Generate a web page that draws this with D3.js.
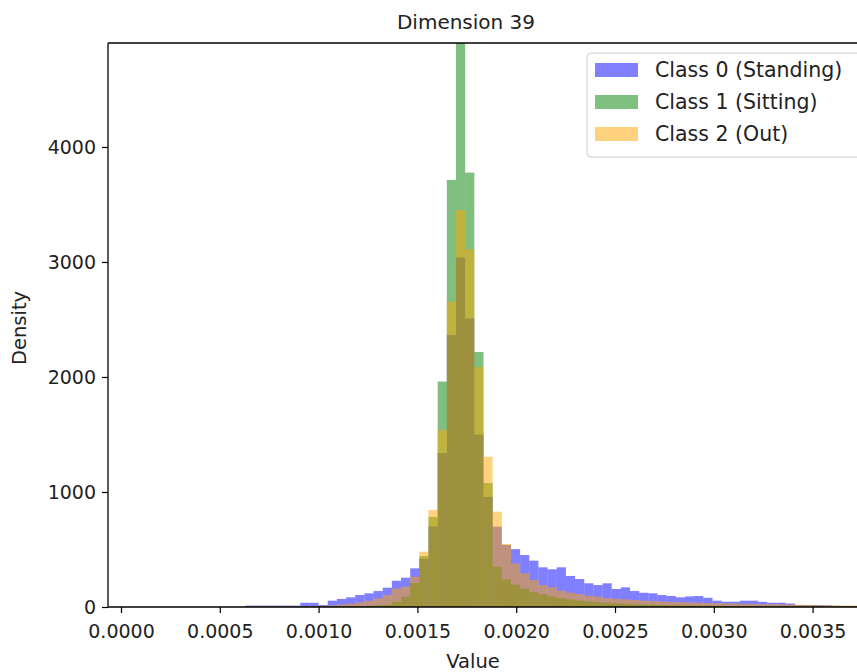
<!DOCTYPE html>
<html>
<head>
<meta charset="utf-8">
<script src="https://cdn.jsdelivr.net/npm/d3@7"></script>
<style>
  body { margin: 0; background: #fff; }
  svg { display: block; font-family: "DejaVu Sans", sans-serif; }
</style>
</head>
<body>
<script>
// histogram bins: first bin left edge and bin width (data units)
var binWidth = 0.00004636;
var firstEdge = 0.0016953 - 23 * binWidth;

var classNames = ["Class 0 (Standing)", "Class 1 (Sitting)", "Class 2 (Out)"];

// densities per bin
var standing = [12, 12, 12, 12, 12, 12, 37, 37, 17, 55, 70, 84, 104, 119, 139, 168, 228, 255, 336, 420,
  700, 1340, 2365, 3040, 2510, 1500, 957, 698, 540, 503, 452, 403, 345, 328, 345, 270, 243, 206,
  191, 206, 157, 171, 139, 124, 119, 104, 96, 84, 92, 96, 80, 55, 46, 46, 55, 55, 45, 37, 37, 30,
  17, 17, 17, 15, 10, 9, 9];
var sitting = [5, 5, 5, 5, 5, 5, 5, 5, 5, 6, 6, 7, 9, 11, 14, 20, 46, 90, 209, 443,
  783, 1960, 3713, 5600, 3777, 2217, 1078, 350, 240, 195, 160, 130, 110, 90, 78, 66, 56, 48,
  42, 37, 32, 28, 25, 22, 20, 18, 16, 15, 14, 13, 12, 11, 10, 10, 9, 9, 8, 8, 7, 7,
  6, 6, 5, 5, 5, 4, 4];
var out = [5, 5, 5, 5, 5, 5, 5, 6, 9, 14, 20, 28, 40, 55, 75, 104, 160, 177, 264, 481,
  843, 1540, 2655, 3452, 3110, 2087, 1307, 829, 548, 378, 293, 235, 191, 171, 142, 124, 113, 98,
  90, 78, 72, 67, 60, 56, 52, 48, 45, 42, 40, 37, 35, 33, 31, 30, 28, 27, 25, 24, 22, 21,
  20, 18, 17, 15, 14, 13, 12];

var xTicks = [0, 0.0005, 0.001, 0.0015, 0.002, 0.0025, 0.003, 0.0035];
var yTicks = [0, 1000, 2000, 3000, 4000];

var width = 857, height = 672;
var plotLeft = 108, plotTop = 43, plotBottom = 607, plotRight = 880;

var colors = ["#0000ff", "#008000", "#ffa500"];
var series = [standing, sitting, out];

var svg = d3.select("body").append("svg")
    .attr("width", width)
    .attr("height", height);

var x = d3.scaleLinear()
    .domain([-0.0000658, -0.0000658 + (plotRight - plotLeft) / 197600])
    .range([plotLeft, plotRight]);
var y = d3.scaleLinear()
    .domain([0, 4904])
    .range([plotBottom, plotTop]);

svg.append("clipPath").attr("id", "plotclip")
  .append("rect")
    .attr("x", plotLeft).attr("y", plotTop)
    .attr("width", plotRight - plotLeft).attr("height", plotBottom - plotTop);

var plot = svg.append("g").attr("clip-path", "url(#plotclip)");

series.forEach(function(vals, s) {
    plot.append("g")
        .attr("fill", colors[s])
        .attr("fill-opacity", 0.5)
      .selectAll("rect")
      .data(vals)
      .enter().append("rect")
        .attr("x", function(d, i) { return x(firstEdge + i * binWidth); })
        .attr("width", function(d, i) { return x(firstEdge + (i + 1) * binWidth) - x(firstEdge + i * binWidth); })
        .attr("y", function(d) { return y(d); })
        .attr("height", function(d) { return y(0) - y(d); });
});

// axes
var xAxis = svg.append("g")
    .attr("transform", "translate(0," + plotBottom + ")")
    .call(d3.axisBottom(x).tickValues(xTicks).tickFormat(d3.format(".4f")).tickSize(6).tickPadding(12));
var yAxis = svg.append("g")
    .attr("transform", "translate(" + plotLeft + ",0)")
    .call(d3.axisLeft(y).tickValues(yTicks).tickFormat(d3.format("d")).tickSize(6).tickPadding(6));

[xAxis, yAxis].forEach(function(a) {
    a.attr("font-family", "DejaVu Sans, sans-serif").attr("font-size", 19);
    a.select(".domain").remove();
    a.selectAll(".tick line").attr("stroke", "#000").attr("stroke-width", 1.2);
    a.selectAll(".tick text").attr("fill", "#222");
});

// spines
svg.append("line").attr("x1", plotLeft).attr("x2", plotLeft).attr("y1", plotTop).attr("y2", plotBottom)
    .attr("stroke", "#000").attr("stroke-width", 1.3);
svg.append("line").attr("x1", plotLeft).attr("x2", plotRight).attr("y1", plotBottom).attr("y2", plotBottom)
    .attr("stroke", "#000").attr("stroke-width", 1.3);
svg.append("line").attr("x1", plotLeft).attr("x2", plotRight).attr("y1", plotTop).attr("y2", plotTop)
    .attr("stroke", "#000").attr("stroke-width", 1.3);

// labels
svg.append("text")
    .attr("x", 466).attr("y", 29)
    .attr("text-anchor", "middle")
    .style("font-size", "20px")
    .attr("fill", "#222")
    .text("Dimension 39");

svg.append("text")
    .attr("x", 473).attr("y", 668)
    .attr("text-anchor", "middle")
    .style("font-size", "19.5px")
    .attr("fill", "#222")
    .text("Value");

svg.append("text")
    .attr("transform", "translate(26,328) rotate(-90)")
    .attr("text-anchor", "middle")
    .style("font-size", "19.5px")
    .attr("fill", "#222")
    .text("Density");

// legend
var legend = svg.append("g").attr("transform", "translate(587,53)");
legend.append("rect")
    .attr("width", 290).attr("height", 104)
    .attr("rx", 4)
    .attr("fill", "#fff").attr("fill-opacity", 0.8)
    .attr("stroke", "#ccc");
classNames.forEach(function(name, i) {
    legend.append("rect")
        .attr("x", 8).attr("y", 10 + i * 32)
        .attr("width", 43).attr("height", 14)
        .attr("fill", colors[i]).attr("fill-opacity", 0.5);
    legend.append("text")
        .attr("x", 68).attr("y", 17 + i * 32)
        .attr("dy", "0.35em")
        .style("font-size", "20.5px")
        .attr("fill", "#222")
        .text(name);
});
</script>
</body>
</html>
